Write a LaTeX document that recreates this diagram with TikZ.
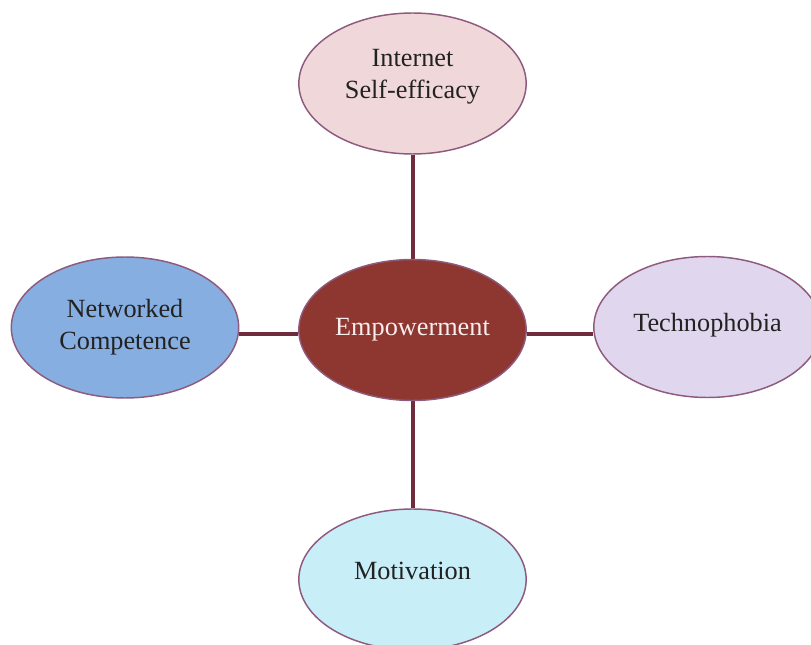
\documentclass[tikz,border=0pt]{standalone}
\usepackage{fontspec}
\setmainfont{Liberation Serif}
\usetikzlibrary{shapes.geometric,backgrounds}
\definecolor{edgecol}{HTML}{6E2C3C}
\definecolor{bordercol}{HTML}{8E5A7E}
\definecolor{topfill}{HTML}{F0D8DA}
\definecolor{centerfill}{HTML}{8E3630}
\definecolor{centertext}{HTML}{FAEDED}
\definecolor{leftfill}{HTML}{87AEE0}
\definecolor{rightfill}{HTML}{E0D7EF}
\definecolor{bottomfill}{HTML}{C8EEF7}
\definecolor{labeltext}{HTML}{222222}
\tikzset{
  bubble/.style={ellipse, draw=bordercol, line width=1.1pt, inner sep=0pt,
    minimum width=170.5pt, minimum height=105.75pt, align=center,
    font=\fontsize{19.7}{24}\selectfont, text=labeltext},
  link/.style={draw=edgecol, line width=3.6pt}
}
\begin{document}
\begin{tikzpicture}[x=0.75pt,y=-0.75pt]
\useasboundingbox (0,0) rectangle (811,645);
\clip (0,0) rectangle (811,645);
\node[bubble, fill=centerfill, text=centertext] (emp) at (412.5,330) {Empowerment};
\node[bubble, fill=topfill, text depth=14.8pt] (ise) at (412.5,83.5) {Internet\\Self-efficacy};
\node[bubble, fill=leftfill] (nc) at (125,327.5) {Networked\\Competence};
\node[bubble, fill=rightfill, text depth=7.3pt] (tech) at (707.5,327) {Technophobia};
\node[bubble, fill=bottomfill, text depth=13.5pt] (mot) at (412.5,579.5) {Motivation};
\coordinate (hline) at (0,334);
\coordinate (vline) at (413,0);
\begin{scope}[on background layer]
\draw[link] (vline |- ise.south) -- (vline |- emp.north);
\draw[link] (vline |- emp.south) -- (vline |- mot.north);
\draw[link] (nc.east |- hline) -- (emp.west |- hline);
\draw[link] (emp.east |- hline) -- (tech.west |- hline);
\end{scope}
\end{tikzpicture}
\end{document}
